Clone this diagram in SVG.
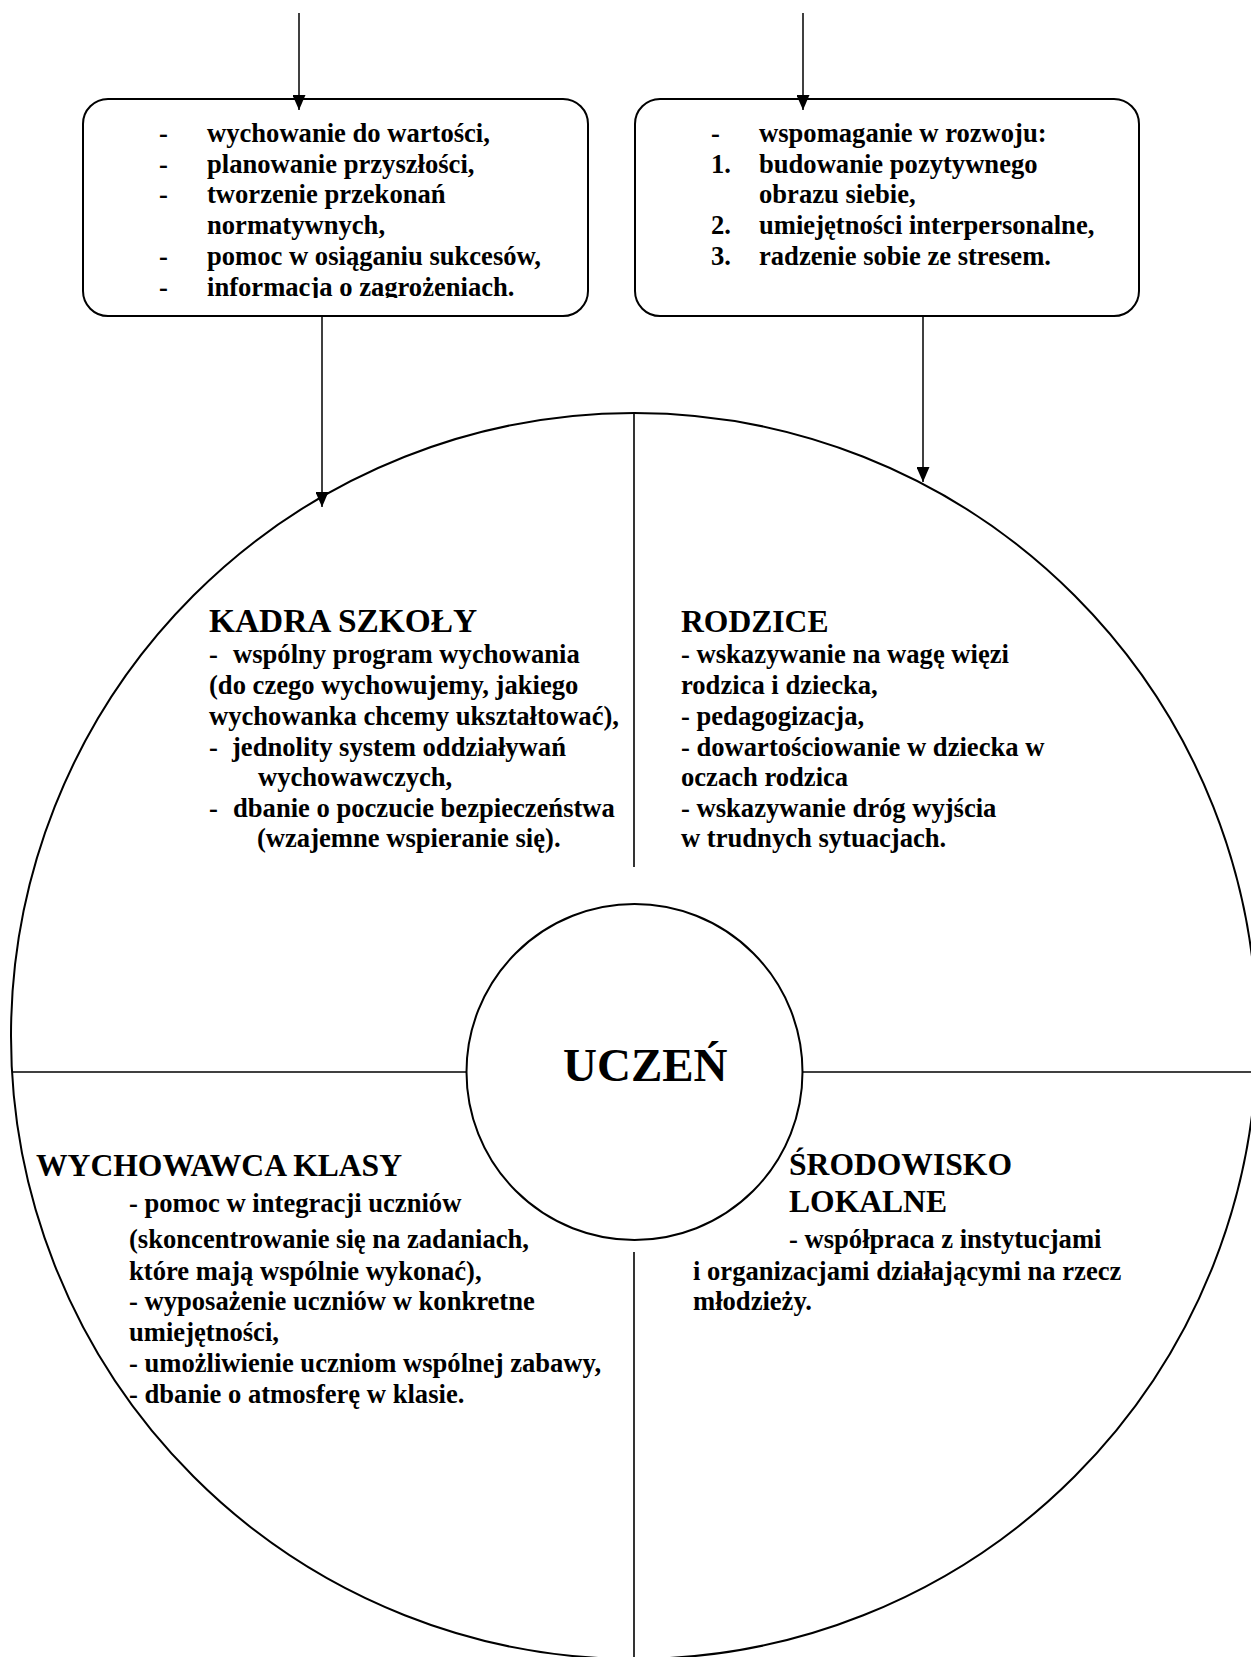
<svg xmlns="http://www.w3.org/2000/svg" width="1251" height="1657" viewBox="0 0 1251 1657">
<style>
  text { font-family: "Liberation Serif", "Times New Roman", serif; font-weight: bold; font-size: 26.6px; fill: #000; }
  .h { font-size: 31.6px; }
  .hk { font-size: 33.4px; }
  .big { font-size: 47px; }
  .shape { fill: #fff; stroke: #000; stroke-width: 2; }
  .div { stroke: #000; stroke-width: 1.6; fill: none; }
  .conn { stroke: #000; stroke-width: 1.5; fill: none; }
</style>
<defs>
  <marker id="arr" markerUnits="userSpaceOnUse" markerWidth="16" markerHeight="13" refX="15" refY="6.5" orient="auto">
    <path d="M0,0 L15,6.5 L0,13 Z" fill="#000"/>
  </marker>
  <clipPath id="clipL">
    <rect x="83" y="99" width="505" height="199"/>
  </clipPath>
</defs>
<rect width="1251" height="1657" fill="#fff"/>

<g id="big-circle">
  <circle cx="634" cy="1036" r="623" fill="none" stroke="#000" stroke-width="2"/>
  <line class="div" x1="634" y1="413" x2="634" y2="867"/>
  <line class="div" x1="634" y1="1252" x2="634" y2="1657"/>
  <line class="div" x1="12" y1="1072" x2="467" y2="1072"/>
  <line class="div" x1="802" y1="1072" x2="1251" y2="1072"/>
</g>

<g id="box-left">
  <rect class="shape" x="83" y="99" width="505" height="217" rx="25" ry="25"/>
  <g clip-path="url(#clipL)">
    <text x="159" y="142">-</text><text x="207" y="142">wychowanie do wartości,</text>
    <text x="159" y="172.7">-</text><text x="207" y="172.7">planowanie przyszłości,</text>
    <text x="159" y="203.4">-</text><text x="207" y="203.4">tworzenie przekonań</text>
    <text x="207" y="234">normatywnych,</text>
    <text x="159" y="264.8">-</text><text x="207" y="264.8">pomoc w osiąganiu sukcesów,</text>
    <text x="159" y="295.8">-</text><text x="207" y="295.8">informacja o zagrożeniach.</text>
  </g>
</g>

<g id="box-right">
  <rect class="shape" x="635" y="99" width="504" height="217" rx="25" ry="25"/>
  <text x="711" y="142">-</text><text x="759" y="142">wspomaganie w rozwoju:</text>
  <text x="711" y="172.7">1.</text><text x="759" y="172.7">budowanie pozytywnego</text>
  <text x="759" y="203.4">obrazu siebie,</text>
  <text x="711" y="234">2.</text><text x="759" y="234">umiejętności interpersonalne,</text>
  <text x="711" y="264.8">3.</text><text x="759" y="264.8">radzenie sobie ze stresem.</text>
</g>

<g id="kadra-szkoly">
  <text class="hk" x="209" y="632">KADRA SZKOŁY</text>
  <text x="209" y="663">-</text><text x="233" y="663">wspólny program wychowania</text>
  <text x="209" y="694">(do czego wychowujemy, jakiego</text>
  <text x="209" y="725">wychowanka chcemy ukształtować),</text>
  <text x="209" y="755.5">-</text><text x="232" y="755.5">jednolity system oddziaływań</text>
  <text x="258" y="786">wychowawczych,</text>
  <text x="209" y="816.5">-</text><text x="233" y="816.5">dbanie o poczucie bezpieczeństwa</text>
  <text x="257" y="847">(wzajemne wspieranie się).</text>
</g>

<g id="rodzice">
  <text class="h" x="681" y="632">RODZICE</text>
  <text x="681" y="663">- wskazywanie na wagę więzi</text>
  <text x="681" y="694">rodzica i dziecka,</text>
  <text x="681" y="725">- pedagogizacja,</text>
  <text x="681" y="755.5">- dowartościowanie w dziecka w</text>
  <text x="681" y="786">oczach rodzica</text>
  <text x="681" y="816.5">- wskazywanie dróg wyjścia</text>
  <text x="681" y="847">w trudnych sytuacjach.</text>
</g>

<g id="uczen">
  <circle class="shape" cx="634.5" cy="1072" r="168"/>
  <text class="big" x="563" y="1081">UCZEŃ</text>
</g>

<g id="wychowawca-klasy">
  <text class="h" x="36" y="1176">WYCHOWAWCA KLASY</text>
  <text x="129" y="1212">- pomoc w integracji uczniów</text>
  <text x="129" y="1248">(skoncentrowanie się na zadaniach,</text>
  <text x="129" y="1279.5">które mają wspólnie wykonać),</text>
  <text x="129" y="1310">- wyposażenie uczniów w konkretne</text>
  <text x="129" y="1341">umiejętności,</text>
  <text x="129" y="1372">- umożliwienie uczniom wspólnej zabawy,</text>
  <text x="129" y="1403">- dbanie o atmosferę w klasie.</text>
</g>

<g id="srodowisko-lokalne">
  <text class="h" x="789" y="1175">ŚRODOWISKO</text>
  <text class="h" x="789" y="1211.5">LOKALNE</text>
  <text x="789" y="1248">- współpraca z instytucjami</text>
  <text x="693" y="1279.5">i organizacjami działającymi na rzecz</text>
  <text x="693" y="1310">młodzieży.</text>
</g>

<g id="connectors">
  <line class="conn" x1="299" y1="13" x2="299" y2="110" marker-end="url(#arr)"/>
  <line class="conn" x1="803" y1="13" x2="803" y2="110" marker-end="url(#arr)"/>
  <line class="conn" x1="322" y1="316" x2="322" y2="507" marker-end="url(#arr)"/>
  <line class="conn" x1="923" y1="316" x2="923" y2="482" marker-end="url(#arr)"/>
</g>
</svg>
